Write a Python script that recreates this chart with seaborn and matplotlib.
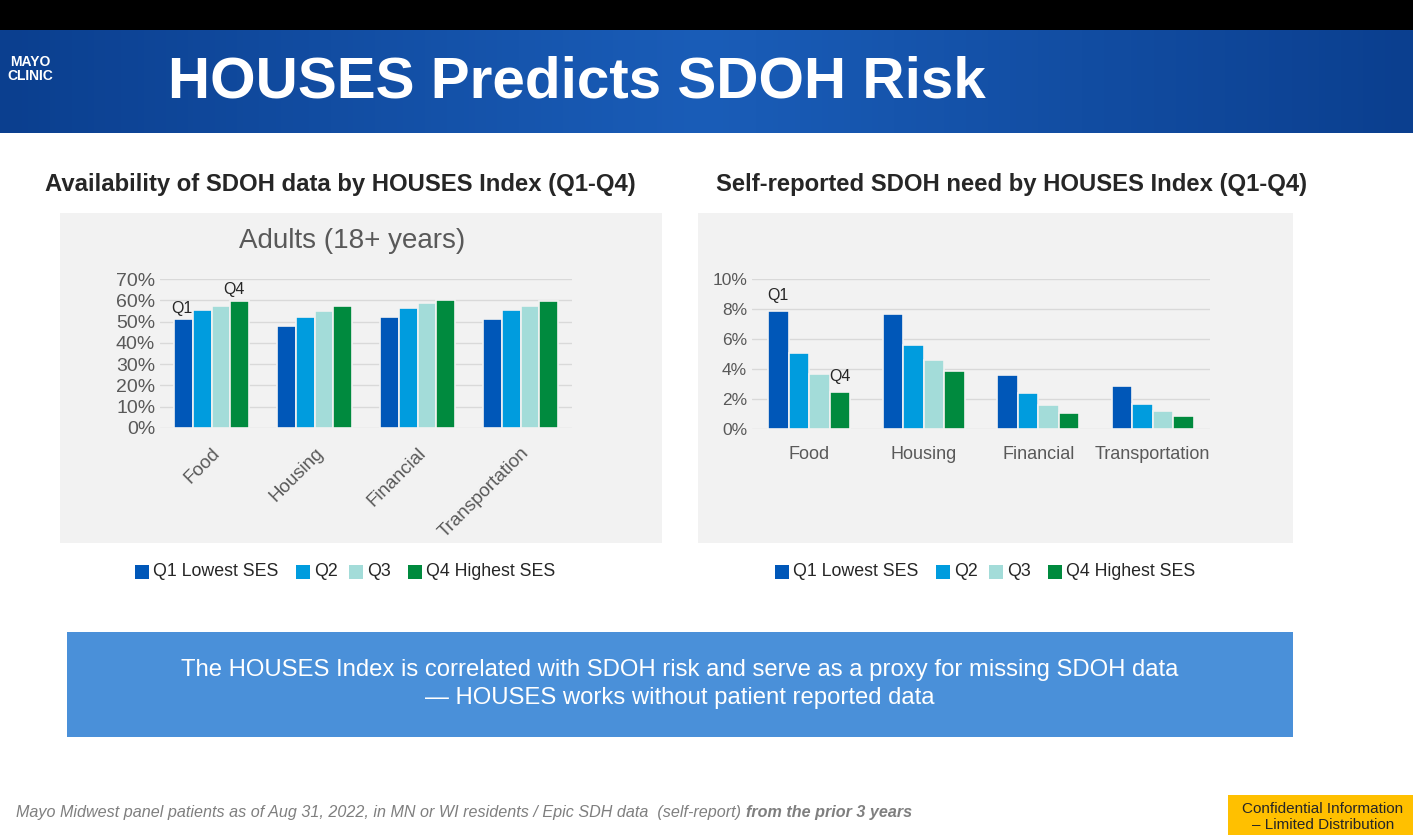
import numpy as np
import pandas as pd
import matplotlib
matplotlib.use('Agg')
import matplotlib.pyplot as plt
from matplotlib.patches import Rectangle
from matplotlib.colors import LinearSegmentedColormap
import seaborn as sns

categories = ['Food', 'Housing', 'Financial', 'Transportation']
quartiles = ['Q1 Lowest SES', 'Q2', 'Q3', 'Q4 Highest SES']
# availability of SDOH data (%), rows = categories, cols = quartiles
availability = [[51, 55.5, 57.5, 59.5],
                [48, 52, 55, 57.5],
                [52, 56.5, 58.5, 60],
                [51, 55.5, 57.5, 59.5]]
# self-reported need (%)
need = [[7.9, 5.1, 3.7, 2.5],
        [7.7, 5.6, 4.6, 3.9],
        [3.6, 2.4, 1.6, 1.1],
        [2.9, 1.7, 1.2, 0.9]]
colors = ['#0057b8', '#009cde', '#a3dcd9', '#008a3e']

sns.set_style('white')
plt.rcParams['font.family'] = ['Liberation Sans', 'DejaVu Sans']

W, H = 1413, 835
fig = plt.figure(figsize=(W / 100, H / 100), dpi=100)
fig.patch.set_facecolor('white')

def px(x, y, w, h):
    return [x / W, 1 - (y + h) / H, w / W, h / H]

def frect(x, y, w, h, color, z=0):
    fig.add_artist(Rectangle((x / W, 1 - (y + h) / H), w / W, h / H,
                             transform=fig.transFigure, color=color, zorder=z, lw=0))

# top black strip and header gradient
frect(0, 0, W, 30, 'black')
hax = fig.add_axes(px(0, 30, W, 103))
grad = np.linspace(0, 1, 256)[None, :]
cmap = LinearSegmentedColormap.from_list('hdr', ['#0b3f8f', '#1a5db8', '#0b3f8f'])
hax.imshow(grad, aspect='auto', cmap=cmap, extent=[0, 1, 0, 1])
hax.axis('off')
fig.text(168 / W, 1 - 83 / H, 'HOUSES Predicts SDOH Risk', color='white',
         fontsize=42, fontweight='bold', va='center', ha='left')
fig.text(30 / W, 1 - 69 / H, 'MAYO\nCLINIC', color='white', fontsize=10,
         fontweight='bold', va='center', ha='center', linespacing=0.95)

# subtitles
fig.text(340 / W, 1 - 185 / H, 'Availability of SDOH data by HOUSES Index (Q1-Q4)',
         fontsize=17.2, fontweight='bold', ha='center', va='center')
fig.text(1012 / W, 1 - 185 / H, 'Self-reported SDOH need by HOUSES Index (Q1-Q4)',
         fontsize=17.2, fontweight='bold', ha='center', va='center')

# chart panels
frect(60, 213, 602, 330, '#f2f2f2')
frect(698, 213, 595, 330, '#f2f2f2')

def make_df(vals):
    rows = []
    for c, row in zip(categories, vals):
        for q, v in zip(quartiles, row):
            rows.append({'cat': c, 'q': q, 'v': v})
    return pd.DataFrame(rows)

def style_axis(ax, ymax, step):
    ax.set_facecolor('none')
    ax.set_ylim(0, ymax)
    ax.set_yticks(np.arange(0, ymax + 0.001, step))
    ax.set_yticklabels([f'{int(t)}%' for t in np.arange(0, ymax + 0.001, step)])
    ax.grid(axis='y', color='#d9d9d9', lw=1)
    ax.set_axisbelow(True)
    for s in ax.spines.values():
        s.set_visible(False)
    ax.set_xlabel('')
    ax.set_ylabel('')
    ax.tick_params(length=0, colors='#595959')
    ax.get_legend().remove()
    for p in ax.patches:
        p.set_edgecolor('#f2f2f2')
        p.set_linewidth(1.2)

# left chart
ax1 = fig.add_axes(px(160, 279, 412, 149))
sns.barplot(data=make_df(availability), x='cat', y='v', hue='q', palette=colors,
            width=0.72, ax=ax1, saturation=1)
style_axis(ax1, 70, 10)
ax1.tick_params(axis='y', labelsize=14)
ax1.set_xticks(range(4))
ax1.set_xticklabels(categories, rotation=45, ha='right', rotation_mode='anchor',
                    fontsize=13.5)
ax1.tick_params(axis='x', pad=12)
ax1.text(-0.39, availability[0][0] + 1.5, 'Q1', fontsize=11.5, ha='left', va='bottom')
ax1.text(0.22, availability[0][3] + 2, 'Q4', fontsize=11.5, ha='center', va='bottom')
fig.text(352 / W, 1 - 241 / H, 'Adults (18+ years)', fontsize=20, color='#595959',
         ha='center', va='center')

# right chart
ax2 = fig.add_axes(px(752, 279, 458, 150))
sns.barplot(data=make_df(need), x='cat', y='v', hue='q', palette=colors,
            width=0.72, ax=ax2, saturation=1)
style_axis(ax2, 10, 2)
ax2.tick_params(axis='y', labelsize=12.5)
ax2.tick_params(axis='x', labelsize=13, pad=12)
ax2.text(-0.27, need[0][0] + 0.5, 'Q1', fontsize=11.5, ha='center', va='bottom')
ax2.text(0.27, need[0][3] + 0.5, 'Q4', fontsize=11.5, ha='center', va='bottom')

# legends
for x0 in (135, 775):
    xs = [x0, x0 + 161, x0 + 214, x0 + 273]
    for xx, lab, col in zip(xs, quartiles, colors):
        frect(xx, 565, 14, 14, col)
        fig.text((xx + 18) / W, 1 - 572 / H, lab, fontsize=12.8, va='center', ha='left')

# blue message box
frect(67, 632, 1226, 105, '#4a90d9')
fig.text(680 / W, 1 - 684 / H,
         'The HOUSES Index is correlated with SDOH risk and serve as a proxy for missing SDOH data\n'
         '\u2014 HOUSES works without patient reported data',
         color='white', fontsize=17.2, ha='center', va='center', linespacing=1.4)

# footer
t = fig.text(16 / W, 1 - 812 / H,
             'Mayo Midwest panel patients as of Aug 31, 2022, in MN or WI residents / Epic SDH data  (self-report) ',
             fontsize=11.6, style='italic', color='#7f7f7f', va='center', ha='left')
fig.add_artist(plt.Annotation('from the prior 3 years', xy=(1, 0.5), xycoords=t,
                              va='center', ha='left', fontsize=11.6, style='italic',
                              fontweight='bold', color='#7f7f7f'))
frect(1228, 795, 185, 40, '#ffc000')
fig.text(1323 / W, 1 - 817 / H, 'Confidential Information\n\u2013 Limited Distribution',
         fontsize=11, ha='center', va='center', linespacing=1.2)

fig.savefig('out.png', dpi=100)
